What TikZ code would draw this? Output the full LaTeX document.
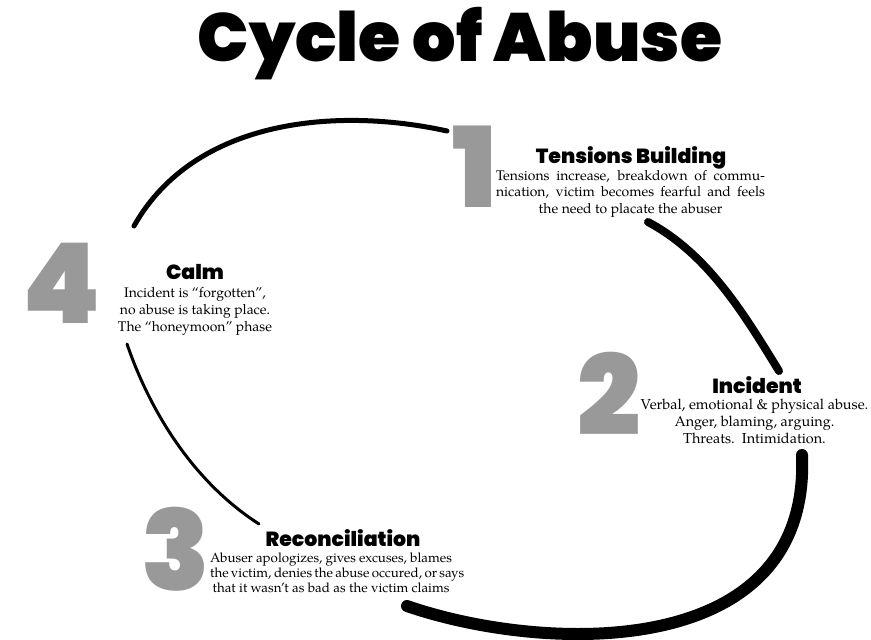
\documentclass[tikz,border=0pt]{standalone}
\usepackage{fontspec}
\setmainfont{TeX Gyre Pagella}
\newfontfamily\heavy{Poppins Black}
\definecolor{numgray}{gray}{0.6}
\tikzset{
  num/.style={font=\heavy\fontsize{112}{112}\selectfont, text=numgray, inner sep=0pt, anchor=base},
  head/.style={font=\heavy\fontsize{20.5}{20.5}\selectfont, inner sep=0pt, anchor=base},
  body/.style={font=\fontsize{14}{16.5}\selectfont, inner sep=0pt, anchor=north, align=center},
  title/.style={font=\heavy\fontsize{68.5}{68.5}\selectfont, inner sep=0pt, anchor=base},
  arcA/.style={line width=5bp, line cap=round},
  arcB/.style={line width=8bp, line cap=round},
  arcC/.style={line width=12bp, line cap=round},
  arcD/.style={line width=3bp, line cap=round},
}
\begin{document}
\begin{tikzpicture}[x=1bp,y=-1bp]
\useasboundingbox (0,0) rectangle (871,640);
\fill[white] (0,0) rectangle (871,640);

\node[title] (title) at (460,62) {Cycle of Abuse};

% big numbers
\node[num] (n1) at (475,208) {1};
\node[num] (n2) at (609,435) {2};
\node[num] (n3) at (176,590) {3};
\node[num] (n4) at (62,323) {4};

% headings
\node[head] (h1) at (631,163.5) {Tensions Building};
\node[head] (h2) at (757,393) {Incident};
\node[head] (h3) at (343,546.5) {Reconciliation};
\node[head] (h4) at (195,279.5) {Calm};

% bodies
\node[body] (b1) at (630.5,170) {\makebox[269bp][s]{Tensions increase, breakdown of commu-}\\
  \makebox[269bp][s]{nication, victim becomes fearful and feels}\\
  the need to placate the abuser};
\node[body, font=\fontsize{14.5}{17}\selectfont] (b2) at (754.5,399) {Verbal, emotional \& physical abuse.\\
  Anger, blaming, arguing.\\
  Threats.\ \ Intimidation.};
\node[body, font=\fontsize{13.4}{15}\selectfont] (b3) at (331,553) {\makebox[242bp][s]{Abuser apologizes, gives excuses, blames}\\
  \makebox[242bp][s]{the victim, denies the abuse occured, or says}\\
  that it wasn’t as bad as the victim claims};
\node[body, font=\fontsize{14}{17}\selectfont] (b4) at (195,287) {Incident is “forgotten”,\\
  no abuse is taking place.\\
  The “honeymoon” phase};

% arcs
\coordinate (a1s) at (134,226);
\coordinate (a1e) at (447,131);
\coordinate (a2s) at (648,222);
\coordinate (a2e) at (779,371);
\coordinate (a3s) at (802,455);
\coordinate (a3e) at (407,606);
\coordinate (a4s) at (127,344);
\coordinate (a4e) at (259,524);
\draw[arcA] (a1s) .. controls (195,118) and (338,107) .. (a1e);
\draw[arcB] (a2s) .. controls (708,254) and (744,314) .. (a2e);
\draw[arcC] (a3s) .. controls (811,663) and (543,653) .. (a3e);
\draw[arcD] (a4s) .. controls (151,414) and (195,483) .. (a4e);
\end{tikzpicture}
\end{document}
